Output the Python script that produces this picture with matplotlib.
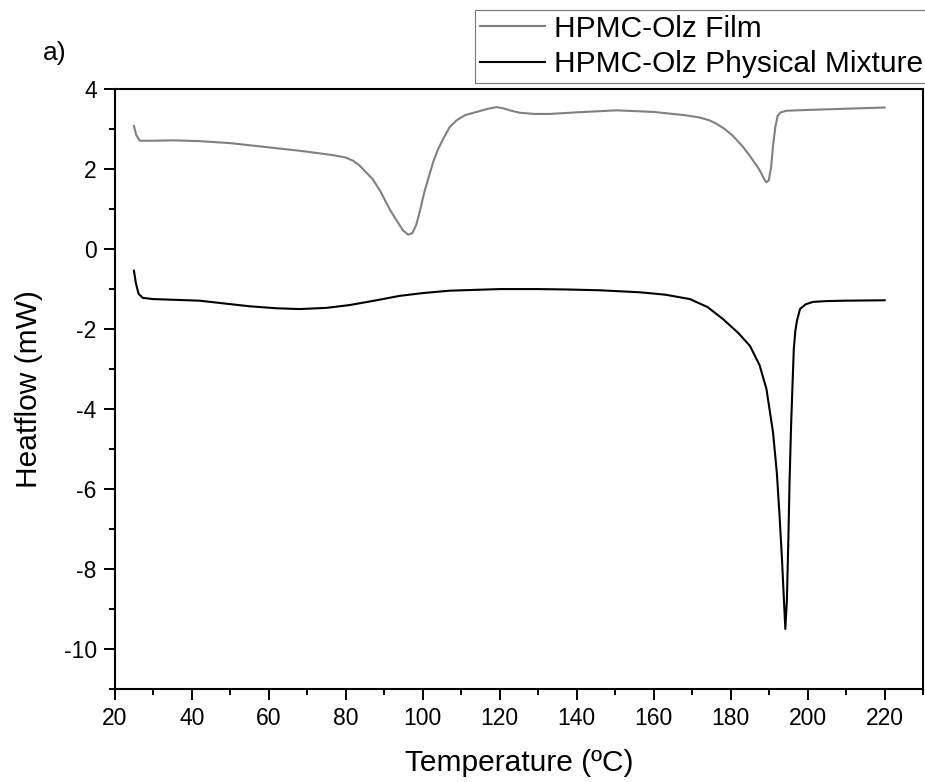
import numpy as np
import matplotlib
matplotlib.use("Agg")
import matplotlib.pyplot as plt
from matplotlib.ticker import MultipleLocator

plt.rcParams['font.family'] = ['Liberation Sans', 'DejaVu Sans']
plt.rcParams['axes.unicode_minus'] = False

# HPMC-Olz Film (grey curve)
film_temp = [25, 25.6, 26.5, 30, 35, 42, 50, 59.5, 68, 76.7, 80, 81.9, 83.5, 85,
             87, 89, 91.4, 93, 94.8, 96.2, 97.3, 98.3, 99.2, 100.5, 102.7, 104,
             105.3, 107, 108.8, 111, 114, 117, 119.2, 121, 123, 125.2, 129, 133,
             140, 150.4, 160, 168, 172, 174.5, 176.4, 178.5, 180.6, 183, 185,
             187.5, 188.7, 189.3, 189.9, 190.5, 191, 191.6, 192.2, 193, 194.5,
             200, 206.6, 213, 220]
film_heat = [3.08, 2.85, 2.71, 2.71, 2.72, 2.70, 2.65, 2.55, 2.46, 2.35, 2.29,
             2.21, 2.10, 1.95, 1.75, 1.45, 1.0, 0.75, 0.48, 0.36, 0.40, 0.60,
             0.92, 1.45, 2.17, 2.50, 2.75, 3.05, 3.22, 3.35, 3.43, 3.51, 3.55,
             3.52, 3.46, 3.41, 3.38, 3.38, 3.42, 3.47, 3.43, 3.35, 3.29, 3.22,
             3.13, 3.00, 2.83, 2.58, 2.33, 1.98, 1.75, 1.67, 1.72, 2.05, 2.58,
             3.05, 3.33, 3.42, 3.46, 3.48, 3.50, 3.52, 3.54]

# HPMC-Olz Physical Mixture (black curve)
mix_temp = [25, 25.5, 26.2, 27.3, 30, 42, 55, 62, 68, 75, 81, 88, 94, 100, 107,
            120, 130, 137.4, 146, 156.4, 163, 169.4, 174, 178, 182, 185, 187.5,
            189.3, 191, 192, 192.7, 193.3, 193.8, 194.2, 194.6, 195, 195.3,
            195.7, 196.1, 196.4, 196.8, 197.2, 198, 199.5, 201.4, 205, 210, 220]
mix_heat = [-0.54, -0.85, -1.12, -1.22, -1.25, -1.29, -1.43, -1.48, -1.50, -1.47,
            -1.40, -1.28, -1.17, -1.10, -1.04, -1.00, -1.00, -1.01, -1.03, -1.08,
            -1.14, -1.25, -1.45, -1.75, -2.1, -2.42, -2.9, -3.5, -4.58, -5.6,
            -6.67, -7.7, -8.7, -9.5, -8.8, -7.2, -5.8, -4.4, -3.3, -2.5, -2.05,
            -1.8, -1.5, -1.38, -1.32, -1.30, -1.29, -1.28]

fig = plt.figure(figsize=(9.25, 7.82), dpi=100)
ax = fig.add_axes([0.124, 0.119, 0.874, 0.767])

line_film, = ax.plot(film_temp, film_heat, color='#808080', lw=1.5, label='HPMC-Olz Film')
line_mix, = ax.plot(mix_temp, mix_heat, color='black', lw=1.5, label='HPMC-Olz Physical Mixture')

ax.set_xlim(20, 230)
ax.set_ylim(-11, 4)
ax.set_xticks(np.arange(20, 221, 20))
ax.xaxis.set_minor_locator(MultipleLocator(10))
ax.yaxis.set_major_locator(MultipleLocator(2))
ax.yaxis.set_minor_locator(MultipleLocator(1))
ax.tick_params(which='major', direction='out', length=8, width=1.4, labelsize=16.5, pad=5)
ax.tick_params(which='minor', direction='out', length=4.3, width=1.4)
for s in ax.spines.values():
    s.set_linewidth(1.5)

ax.set_xlabel('Temperature (ºC)', fontsize=21.5, labelpad=14)
ax.set_ylabel('Heatflow (mW)', fontsize=21.5, labelpad=15)

fig.text(0.059, 0.932, 'a)', fontsize=19, ha='center', va='center')

# legend sits outside the axes, top right, cut by the figure edge
leg = fig.legend(handles=[line_film, line_mix], loc='upper right',
                 bbox_to_anchor=(1.003, 0.987), fontsize=21.5, frameon=True,
                 fancybox=False, edgecolor='#555555', borderpad=0.15,
                 labelspacing=0.25, handlelength=2.2, handletextpad=0.3,
                 borderaxespad=0)
leg.get_frame().set_linewidth(0.8)

fig.savefig('out.png', dpi=100)
